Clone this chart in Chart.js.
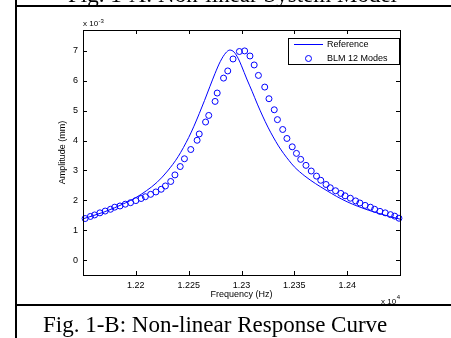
<!DOCTYPE html>
<html>
<head>
<meta charset="utf-8">
<script src="https://cdn.jsdelivr.net/npm/chart.js@4.4.1/dist/chart.umd.min.js"></script>
<style>
  html, body { margin: 0; padding: 0; background: #fff; }
  #page { position: relative; width: 451px; height: 338px; overflow: hidden; background: #fff; }
  #chart { position: absolute; left: 0; top: 0; }
  .rule { position: absolute; background: #000; }
  .caption { position: absolute; white-space: nowrap; font-family: "Liberation Serif", "Times New Roman", serif; font-size: 23px; line-height: 23px; color: #000; }
</style>
</head>
<body>
<div id="page">
  <canvas id="chart" width="451" height="338"></canvas>
  <div class="caption" style="left:68px; top:-17px;">Fig. 1-A: Non-linear System Model</div>
  <div class="rule" style="left:15px; top:5px; width:436px; height:2px;"></div>
  <div class="rule" style="left:15px; top:0; width:2px; height:338px;"></div>
  <div class="rule" style="left:15px; top:304px; width:436px; height:2px;"></div>
  <div class="caption" style="left:43px; top:313px;">Fig. 1-B: Non-linear Response Curve</div>
</div>
<script>
// frequency in Hz, amplitude in units of 1e-3 mm
const freqRef = [12150, 12160, 12170, 12180, 12190, 12200, 12210, 12220, 12230, 12240,
  12250, 12255, 12260, 12265, 12270, 12275, 12280, 12285, 12289, 12293,
  12297, 12300, 12305, 12310, 12315, 12320, 12325, 12330, 12335, 12340,
  12345, 12350, 12360, 12370, 12380, 12390, 12400, 12410, 12420, 12430,
  12440, 12450];
const ampRef = [1.38, 1.49, 1.61, 1.75, 1.91, 2.09, 2.32, 2.60, 2.98, 3.46,
  4.10, 4.48, 4.90, 5.34, 5.80, 6.25, 6.65, 6.93, 7.03, 6.96,
  6.74, 6.50, 6.06, 5.65, 5.22, 4.82, 4.45, 4.12, 3.82, 3.56,
  3.33, 3.12, 2.81, 2.56, 2.34, 2.13, 1.95, 1.80, 1.67, 1.56,
  1.46, 1.37];

const freqBLM = [12152, 12157, 12161, 12166, 12171, 12176, 12180, 12185, 12190, 12195,
  12200, 12205, 12209, 12214, 12219, 12224, 12228, 12233, 12237, 12242,
  12246, 12252, 12258, 12260, 12266, 12269, 12275, 12277, 12283, 12287,
  12292, 12298, 12303, 12308, 12312, 12316, 12322, 12326, 12331, 12334,
  12339, 12343, 12348, 12352, 12356, 12361, 12366, 12371, 12375, 12380,
  12384, 12389, 12394, 12398, 12403, 12408, 12412, 12417, 12422, 12426,
  12431, 12436, 12441, 12445, 12449];
const ampBLM = [1.39, 1.46, 1.51, 1.58, 1.64, 1.70, 1.77, 1.81, 1.87, 1.92,
  1.99, 2.06, 2.12, 2.20, 2.28, 2.37, 2.48, 2.63, 2.85, 3.13,
  3.39, 3.70, 4.01, 4.22, 4.62, 4.84, 5.31, 5.59, 6.09, 6.33,
  6.73, 6.98, 7.00, 6.83, 6.53, 6.18, 5.79, 5.40, 5.03, 4.70,
  4.37, 4.07, 3.79, 3.57, 3.37, 3.17, 2.98, 2.81, 2.67, 2.53,
  2.42, 2.32, 2.23, 2.15, 2.07, 1.98, 1.91, 1.83, 1.77, 1.70,
  1.63, 1.58, 1.52, 1.47, 1.40];

const xTickValues = [12200, 12250, 12300, 12350, 12400];
const yTickValues = [0, 1, 2, 3, 4, 5, 6, 7];

Chart.defaults.font.family = '"Liberation Sans", Arial, Helvetica, sans-serif';
Chart.defaults.color = '#000';

// box, inward ticks on all sides, exponent labels and the boxed legend (MATLAB look)
const matlabFrame = {
  id: 'matlabFrame',
  afterDatasetsDraw(chart) {
    const { ctx, chartArea: a, scales: { x, y } } = chart;
    ctx.save();
    ctx.strokeStyle = '#000';
    ctx.lineWidth = 1;
    ctx.strokeRect(a.left + 0.5, a.top + 0.5, a.right - a.left, a.bottom - a.top);
    ctx.beginPath();
    xTickValues.forEach(v => {
      const px = Math.round(x.getPixelForValue(v)) + 0.5;
      ctx.moveTo(px, a.bottom); ctx.lineTo(px, a.bottom - 4);
      ctx.moveTo(px, a.top); ctx.lineTo(px, a.top + 4);
    });
    yTickValues.forEach(v => {
      const py = Math.round(y.getPixelForValue(v)) + 0.5;
      ctx.moveTo(a.left, py); ctx.lineTo(a.left + 4, py);
      ctx.moveTo(a.right, py); ctx.lineTo(a.right - 4, py);
    });
    ctx.stroke();

    // exponent labels
    const fam = Chart.defaults.font.family;
    ctx.fillStyle = '#000';
    ctx.textBaseline = 'alphabetic';
    ctx.textAlign = 'left';
    ctx.font = '8px ' + fam;
    ctx.fillText('x 10', a.left, a.top - 4);
    let w = ctx.measureText('x 10').width;
    ctx.font = '6px ' + fam;
    ctx.fillText('-3', a.left + w + 0.5, a.top - 7);

    ctx.font = '6px ' + fam;
    const ew = ctx.measureText('4').width;
    ctx.fillText('4', a.right - ew, a.bottom + 24);
    ctx.font = '8px ' + fam;
    w = ctx.measureText('x 10').width;
    ctx.fillText('x 10', a.right - ew - w - 0.5, a.bottom + 29);

    // legend
    const lx = 288, ly = 38, lw = 111, lh = 26;
    ctx.fillStyle = '#fff';
    ctx.fillRect(lx, ly, lw, lh);
    ctx.strokeRect(lx + 0.5, ly + 0.5, lw, lh);
    const [dsRef, dsBlm] = chart.data.datasets;
    ctx.strokeStyle = dsRef.borderColor;
    ctx.beginPath();
    ctx.moveTo(294, ly + 6.5); ctx.lineTo(323, ly + 6.5);
    ctx.stroke();
    ctx.strokeStyle = dsBlm.borderColor;
    ctx.beginPath();
    ctx.arc(308.5, ly + 20.5, 3, 0, Math.PI * 2);
    ctx.stroke();
    ctx.fillStyle = '#000';
    ctx.font = '9px ' + fam;
    ctx.textBaseline = 'middle';
    ctx.fillText(dsRef.label, 327, ly + 7);
    ctx.fillText(dsBlm.label, 327, ly + 20.5);
    ctx.restore();
  }
};

const ctx = document.getElementById('chart').getContext('2d');
const chart = new Chart(ctx, {
  type: 'scatter',
  data: {
    datasets: [{
      label: 'Reference',
      data: freqRef.map((f, i) => ({ x: f, y: ampRef[i] })),
      showLine: true,
      borderColor: '#0000ff',
      borderWidth: 1,
      pointRadius: 0,
      cubicInterpolationMode: 'monotone',
      clip: false
    }, {
      label: 'BLM 12 Modes',
      data: freqBLM.map((f, i) => ({ x: f, y: ampBLM[i] })),
      showLine: false,
      borderColor: '#0000ff',
      backgroundColor: 'rgba(0,0,0,0)',
      pointStyle: 'circle',
      pointRadius: 3,
      pointBorderWidth: 1,
      clip: false
    }]
  },
  options: {
    responsive: false,
    animation: false,
    layout: { padding: { top: 30, right: 51, left: 0, bottom: 0 } },
    plugins: { legend: { display: false }, tooltip: { enabled: false } },
    scales: {
      x: {
        type: 'linear', min: 12150, max: 12450,
        afterBuildTicks: s => { s.ticks = xTickValues.map(v => ({ value: v })); },
        afterFit: s => { s.height = 63; },
        grid: { display: false, drawTicks: false },
        border: { display: false },
        ticks: { font: { size: 9 }, padding: 5, maxRotation: 0, autoSkip: false,
          callback: v => String(+(v / 1e4).toFixed(4)) },
        title: { display: true, text: 'Frequency (Hz)', font: { size: 9 }, padding: { top: 0, bottom: 38 } }
      },
      y: {
        type: 'linear', min: -0.5, max: 7.7,
        afterBuildTicks: s => { s.ticks = yTickValues.map(v => ({ value: v })); },
        afterFit: s => { s.width = 83; },
        grid: { display: false, drawTicks: false },
        border: { display: false },
        ticks: { font: { size: 9 }, padding: 5, autoSkip: false, callback: v => String(v) },
        title: { display: true, text: 'Amplitude (mm)', font: { size: 9 }, padding: { top: 57, bottom: 0 } }
      }
    }
  },
  plugins: [matlabFrame]
});
</script>
</body>
</html>
